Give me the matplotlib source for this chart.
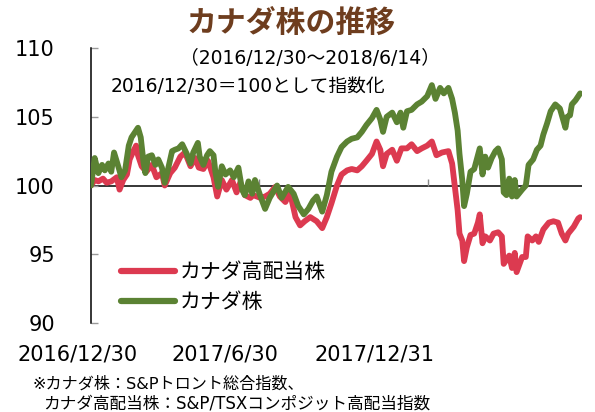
import matplotlib
matplotlib.use("Agg")
import matplotlib.pyplot as plt
import pandas as pd

plt.rcParams['font.family'] = ['DejaVu Sans', 'Noto Sans CJK JP']

title = "カナダ株の推移"
subtitle = "（2016/12/30～2018/6/14）"
note = "2016/12/30＝100として指数化"
footnote1 = "※カナダ株：S&Pトロント総合指数、"
footnote2 = "カナダ高配当株：S&P/TSXコンポジット高配当指数"
start_date = "2016-12-30"
end_date = "2018-06-14"
xtick_dates = ["2016-12-30", "2017-06-30", "2017-12-31"]
xtick_labels = ["2016/12/30", "2017/6/30", "2017/12/31"]
yticks = [90, 95, 100, 105, 110]
label_red = "カナダ高配当株"
label_green = "カナダ株"

# day offsets since 2016/12/30 and index values
green_days = [0, 4, 8, 12, 15, 19, 22, 25, 30, 33, 37, 41, 44, 48, 51, 54, 57, 59, 62, 66,
              70, 73, 77, 80, 84, 88, 91, 95, 99, 104, 108, 111, 116, 118, 122, 126, 129, 133, 135, 138,
              142, 146, 151, 155, 160, 164, 167, 171, 175, 178, 184, 189, 194, 202, 207, 214, 220, 225, 231, 236,
              241, 245, 251, 256, 261, 267, 272, 278, 283, 289, 294, 299, 305, 310, 314, 317, 321, 327, 332, 336,
              339, 343, 348, 354, 359, 365, 370, 374, 379, 383, 388, 392, 395, 398, 400, 403, 405, 408, 412, 416,
              420, 422, 425, 428, 431, 435, 439, 442, 446, 448, 451, 454, 457, 460, 462, 468, 472, 475, 480, 484,
              488, 491, 495, 499, 504, 509, 515, 517, 520, 522, 526, 531]
green_vals = [100.0, 102.0, 100.9, 101.5, 101.1, 101.6, 101.0, 102.4, 101.3, 100.6, 101.1, 102.9, 103.5, 103.9, 104.2, 103.5, 101.7, 100.9, 102.1, 102.2,
              101.5, 101.9, 101.3, 100.2, 101.3, 102.5, 102.6, 102.7, 103.0, 102.3, 101.6, 102.4, 103.1, 102.1, 101.5, 102.2, 102.5, 102.2, 101.0, 99.9,
              101.4, 100.8, 101.1, 100.6, 101.3, 99.7, 99.3, 100.3, 99.4, 100.4, 99.2, 98.3, 99.1, 100.0, 99.1, 99.9, 99.4, 98.5, 97.9, 98.3,
              98.9, 99.2, 98.1, 99.3, 101.0, 102.1, 102.8, 103.2, 103.4, 103.5, 103.9, 104.4, 104.9, 105.5, 104.8, 103.9, 105.0, 105.3, 104.6, 105.3,
              104.2, 105.4, 105.5, 105.9, 106.1, 106.5, 107.3, 106.3, 107.1, 106.7, 107.1, 106.3, 105.3, 104.0, 102.3, 100.4, 98.5, 99.4, 101.0, 101.2,
              102.2, 102.7, 100.8, 102.1, 101.3, 102.0, 102.5, 102.7, 101.9, 99.5, 99.3, 100.5, 99.2, 100.4, 99.2, 99.7, 100.0, 101.5, 101.9, 102.6,
              102.9, 103.7, 104.5, 105.4, 105.9, 105.6, 104.2, 105.0, 105.1, 105.9, 106.2, 106.7]

red_days = [0, 4, 8, 13, 17, 22, 28, 31, 35, 39, 42, 46, 49, 51, 55, 60, 66, 71, 77, 80,
            86, 91, 97, 102, 108, 113, 117, 122, 127, 133, 137, 142, 147, 153, 158, 162, 167, 173, 176, 184,
            189, 194, 200, 205, 211, 216, 222, 227, 232, 238, 245, 251, 256, 261, 267, 272, 278, 283, 289, 294,
            299, 305, 310, 314, 317, 321, 327, 332, 337, 343, 348, 354, 359, 365, 370, 375, 381, 388, 392, 395,
            398, 400, 403, 405, 408, 412, 416, 420, 422, 425, 428, 433, 437, 442, 446, 448, 451, 454, 457, 460,
            462, 468, 472, 474, 479, 483, 486, 491, 497, 502, 507, 511, 515, 518, 524, 529, 531]
red_vals = [100.0, 100.4, 100.3, 100.5, 100.2, 100.3, 100.6, 99.7, 100.4, 100.8, 101.9, 102.5, 102.9, 102.2, 101.4, 101.0, 101.5, 100.6, 100.9, 100.0,
            100.9, 101.3, 102.1, 102.4, 101.4, 102.0, 101.3, 101.2, 101.8, 100.6, 99.2, 100.4, 99.7, 100.4, 99.5, 100.2, 99.3, 99.1, 99.3, 99.1,
            99.2, 99.4, 99.9, 99.2, 98.8, 99.5, 97.7, 97.1, 97.4, 97.7, 97.4, 96.9, 97.7, 98.7, 100.0, 100.8, 101.1, 101.2, 101.1, 101.4,
            101.8, 102.3, 103.2, 102.6, 101.4, 102.3, 102.6, 101.8, 102.7, 102.7, 103.0, 102.5, 102.7, 102.9, 103.2, 102.2, 102.4, 102.5, 101.6, 99.9,
            98.2, 96.5, 96.0, 94.5, 95.5, 96.4, 96.5, 97.3, 97.9, 95.8, 96.3, 96.0, 96.5, 96.6, 96.3, 94.3, 94.6, 94.9, 94.0, 95.1,
            93.7, 94.8, 94.8, 96.3, 96.0, 96.3, 95.9, 96.8, 97.3, 97.4, 97.3, 96.5, 96.0, 96.5, 97.0, 97.6, 97.7]

start = pd.Timestamp(start_date)
green_x = start + pd.to_timedelta(green_days, unit="D")
red_x = start + pd.to_timedelta(red_days, unit="D")

W, H = 595, 412
fig = plt.figure(figsize=(W / 100, H / 100), dpi=100)
ax = fig.add_axes([91 / W, 1 - 323 / H, (582 - 91) / W, 275 / H])

red_c = "#dc3a50"
green_c = "#5b8233"

ax.axhline(100, color="black", lw=1.1, zorder=1)
tick_x = pd.to_datetime(xtick_dates)
ax.vlines(tick_x, 100, 100.5, color="#888888", lw=1, zorder=1)

ax.plot(red_x, red_vals, color=red_c, lw=4.2, solid_joinstyle="round",
        solid_capstyle="round", label=label_red, zorder=2)
ax.plot(green_x, green_vals, color=green_c, lw=4.2, solid_joinstyle="round",
        solid_capstyle="round", label=label_green, zorder=3)

ax.set_xlim(start, pd.Timestamp(end_date) + pd.Timedelta(days=2))
ax.set_ylim(90, 110)
ax.set_yticks(yticks)
ax.tick_params(axis="y", direction="in", length=5, width=1, color="#999999",
               labelsize=15, pad=26)
ax.set_xticks([])
for s in ["top", "right", "bottom"]:
    ax.spines[s].set_visible(False)
ax.spines["left"].set_linewidth(1.1)

# x labels (placed low, as in the reference)
for xl, cx in zip(xtick_labels, [77.5, 225, 375]):
    fig.text(cx / W, 1 - 354 / H, xl, ha="center", va="center", fontsize=15)

fig.text(291.5 / W, 1 - 22.5 / H, title, ha="center", va="center", fontsize=21.5,
         fontweight="bold", color="#6e3d1e", family=["Noto Sans CJK JP"])
fig.text(310 / W, 1 - 59 / H, subtitle, ha="center", va="center", fontsize=13.5)
fig.text(247.5 / W, 1 - 87 / H, note, ha="center", va="center", fontsize=13.5)

fig.text(32 / W, 1 - 384 / H, footnote1, ha="left", va="center", fontsize=11.6)
fig.text(43 / W, 1 - 404 / H, footnote2, ha="left", va="center", fontsize=12)

leg = ax.legend(loc="center left", bbox_to_anchor=(121 / W, 1 - 287 / H),
                bbox_transform=fig.transFigure, frameon=False, fontsize=15,
                handlelength=2.6, handletextpad=0.2, labelspacing=0.5,
                borderpad=0, borderaxespad=0)
for line in leg.get_lines():
    line.set_linewidth(4.5)

fig.savefig("out.png", dpi=100)
